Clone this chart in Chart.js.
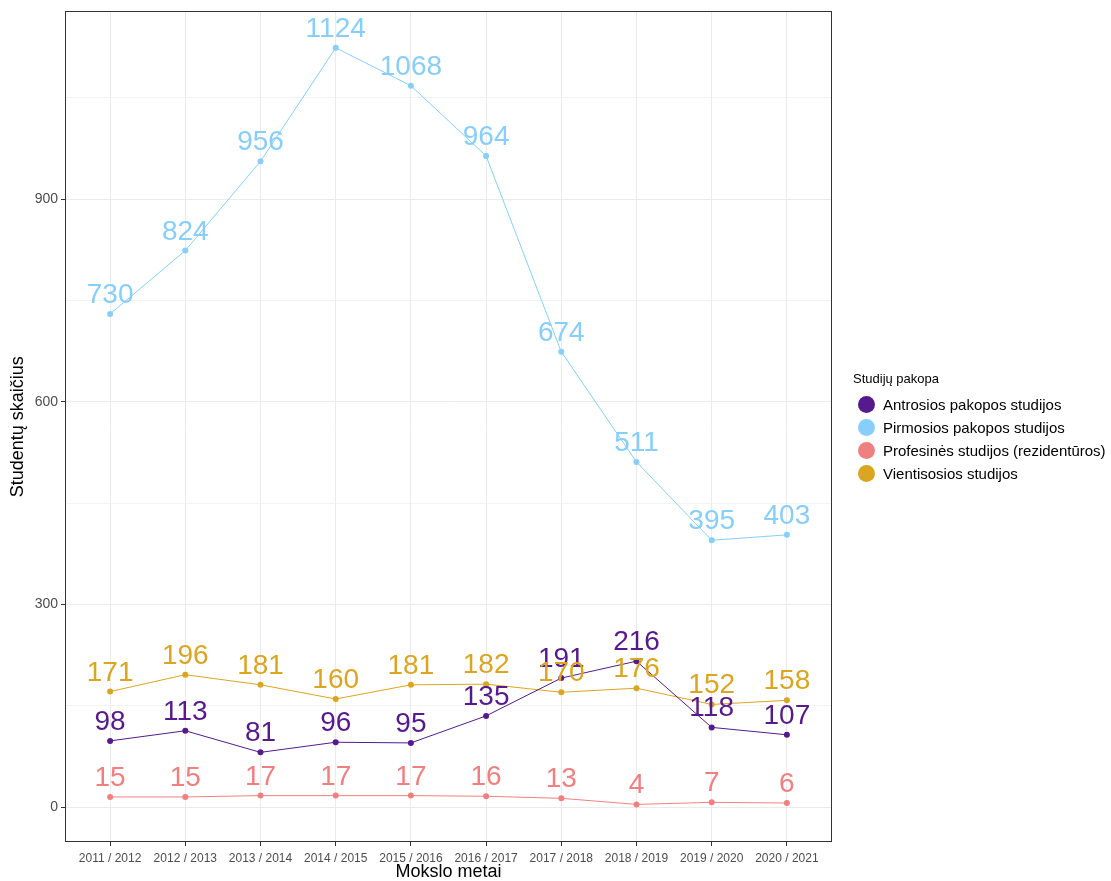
<!DOCTYPE html>
<html>
<head>
<meta charset="utf-8">
<script src="https://cdn.jsdelivr.net/npm/chart.js@4/dist/chart.umd.min.js"></script>
<style>
html,body{margin:0;padding:0;background:#fff;}
#wrap{position:relative;width:1111px;height:881px;}
#legend{position:absolute;left:853px;top:371px;font-family:"Liberation Sans",Arial,sans-serif;}
#legend .title{font-size:13px;color:#000;margin-bottom:7px;}
#legend .item{display:flex;align-items:center;height:23px;font-size:15px;color:#000;}
#legend .dot{width:17px;height:17px;border-radius:50%;margin-left:5px;margin-right:8px;}
</style>
</head>
<body>
<div id="wrap">
<canvas id="c" width="1111" height="881"></canvas>
<div id="legend"></div>
</div>
<script>
const categories = ["2011 / 2012","2012 / 2013","2013 / 2014","2014 / 2015","2015 / 2016","2016 / 2017","2017 / 2018","2018 / 2019","2019 / 2020","2020 / 2021"];
const antrosios = [98,113,81,96,95,135,191,216,118,107];
const pirmosios = [730,824,956,1124,1068,964,674,511,395,403];
const profesines = [15,15,17,17,17,16,13,4,7,6];
const vientisosios = [171,196,181,160,181,182,170,176,152,158];
const seriesNames = ["Antrosios pakopos studijos","Pirmosios pakopos studijos","Profesinės studijos (rezidentūros)","Vientisosios studijos"];
const seriesColors = ["#551A8B","#87CEFA","#F08080","#DAA520"];
const yTicks = [0,150,300,450,600,750,900,1050];
const yMajor = [0,300,600,900];

const allData = [antrosios,pirmosios,profesines,vientisosios];
const FONT = '"Liberation Sans", Arial, sans-serif';

const datasets = allData.map((d,i)=>({
  label: seriesNames[i],
  data: d.map((v,j)=>({x:j,y:v})),
  borderColor: seriesColors[i],
  backgroundColor: seriesColors[i],
  borderWidth: 1,
  pointRadius: 3,
  pointHoverRadius: 3,
  pointBorderWidth: 0,
  tension: 0
}));

const labelPlugin = {
  id:'vlabels',
  afterDatasetsDraw(chart){
    const ctx = chart.ctx;
    ctx.save();
    ctx.font = '28px ' + FONT;
    ctx.textAlign = 'center';
    ctx.textBaseline = 'alphabetic';
    chart.data.datasets.forEach((ds,i)=>{
      const meta = chart.getDatasetMeta(i);
      ctx.fillStyle = seriesColors[i];
      meta.data.forEach((pt,j)=>{
        ctx.fillText(String(allData[i][j]), pt.x, pt.y - 11);
      });
    });
    ctx.restore();
  }
};
const borderPlugin = {
  id:'pborder',
  afterDraw(chart){
    const a = chart.chartArea, ctx = chart.ctx;
    ctx.save();
    ctx.strokeStyle = '#333333';
    ctx.lineWidth = 1;
    ctx.strokeRect(Math.round(a.left)+0.5, Math.round(a.top)+0.5, Math.round(a.right-a.left)-1, Math.round(a.bottom-a.top)-1);
    ctx.restore();
  }
};

new Chart(document.getElementById('c'), {
  type:'line',
  data:{datasets},
  options:{
    responsive:false,
    animation:false,
    events:[],
    layout:{padding:{left:0,right:279,top:10,bottom:0}},
    plugins:{legend:{display:false},tooltip:{enabled:false}},
    scales:{
      x:{
        type:'linear', min:-0.6, max:9.6,
        afterBuildTicks(s){ s.ticks = categories.map((c,i)=>({value:i})); },
        afterFit(s){ s.height = 39; },
        ticks:{ callback:(v)=>categories[v], color:'#4D4D4D', font:{family:FONT,size:12}, padding:5, maxRotation:0, autoSkip:false },
        grid:{ color:'#EBEBEB', lineWidth:1, tickLength:4, tickColor:'#333333', drawTicks:true },
        border:{display:false},
        title:{display:true,text:'Mokslo metai',color:'#000',font:{family:FONT,size:18,lineHeight:1},padding:{top:0,bottom:0}}
      },
      y:{
        type:'linear', min:-51.7, max:1178,
        afterBuildTicks(s){ s.ticks = yTicks.map(v=>({value:v})); },
        afterFit(s){ s.width = 65; },
        ticks:{ callback:(v)=> yMajor.includes(v) ? String(v) : '', color:'#4D4D4D', font:{family:FONT,size:14}, padding:3 },
        grid:{ color:'#EBEBEB', lineWidth:(c)=> yMajor.includes(c.tick && c.tick.value) ? 1 : 0.6, tickLength:4,
               tickColor:(c)=> yMajor.includes(c.tick && c.tick.value) ? '#333333' : 'rgba(0,0,0,0)' },
        border:{display:false},
        title:{display:true,text:'Studentų skaičius',color:'#000',font:{family:FONT,size:18,lineHeight:1},padding:{top:9,bottom:0}}
      }
    }
  },
  plugins:[labelPlugin,borderPlugin]
});

const leg = document.getElementById('legend');
const t = document.createElement('div'); t.className='title'; t.textContent='Studijų pakopa'; leg.appendChild(t);
seriesNames.forEach((n,i)=>{
  const it = document.createElement('div'); it.className='item';
  const d = document.createElement('span'); d.className='dot'; d.style.background=seriesColors[i];
  const s = document.createElement('span'); s.textContent=n;
  it.appendChild(d); it.appendChild(s); leg.appendChild(it);
});
</script>
</body>
</html>
